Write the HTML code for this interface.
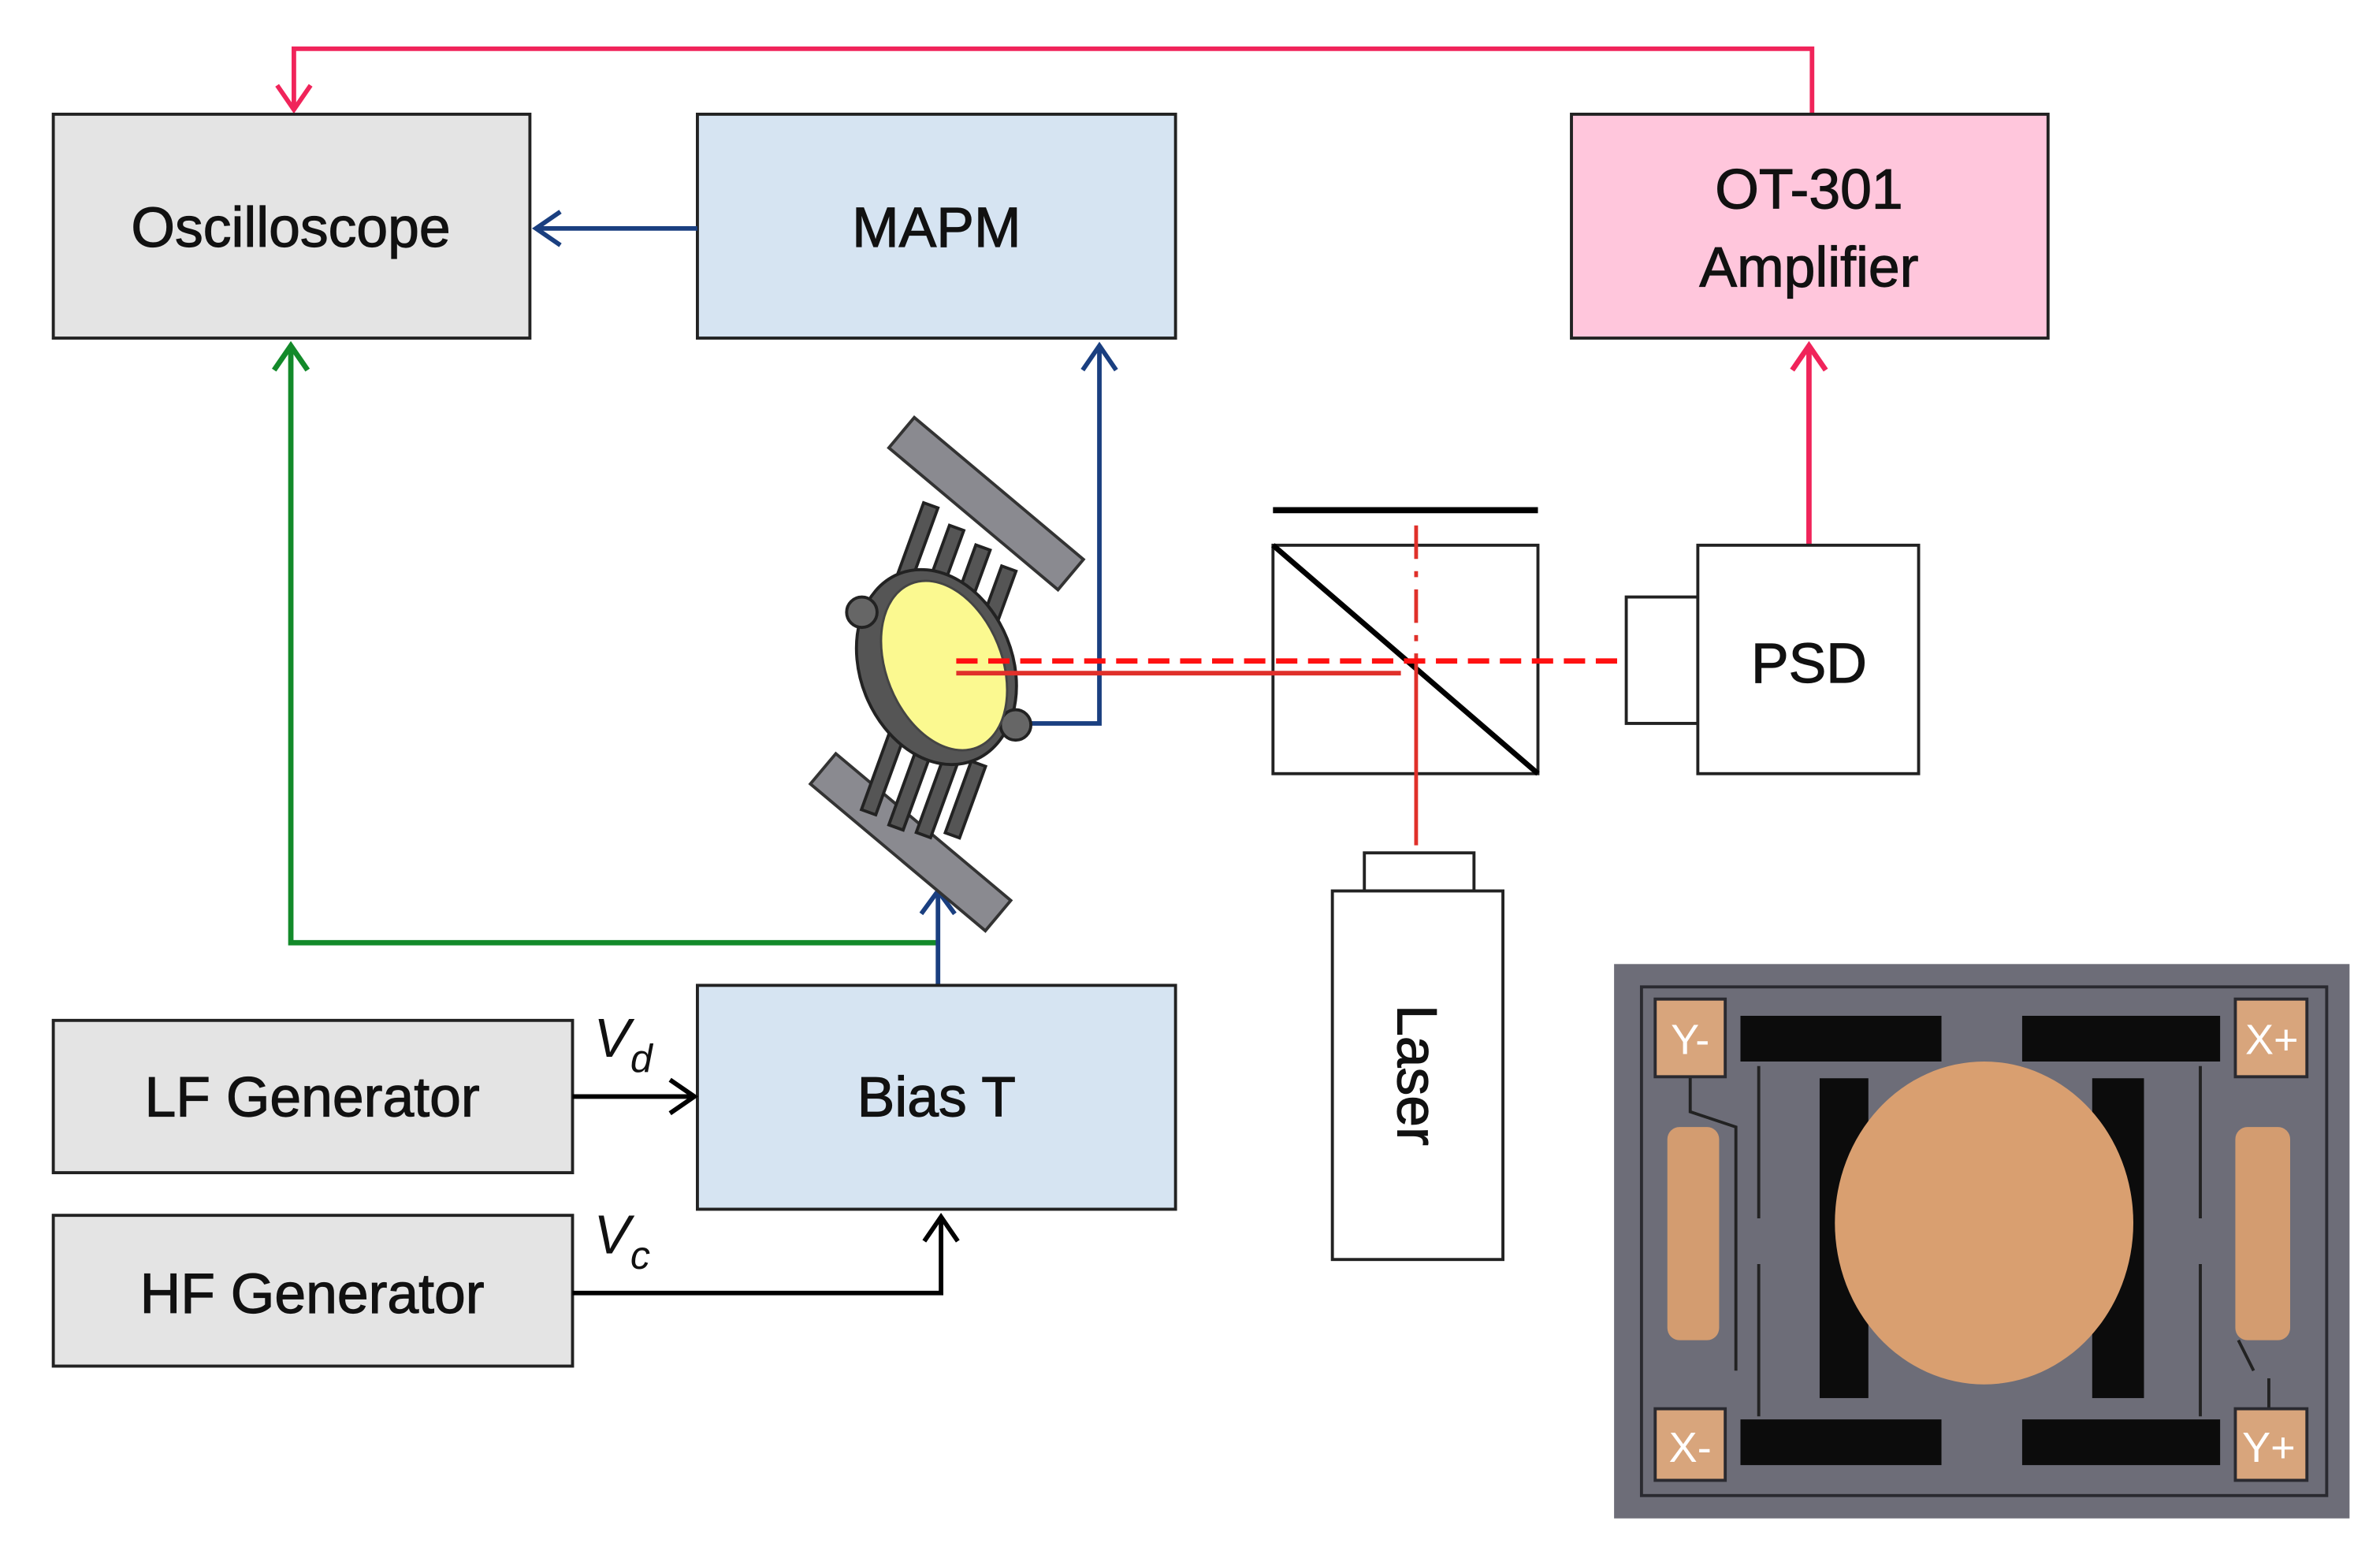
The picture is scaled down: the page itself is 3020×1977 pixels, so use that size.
<!DOCTYPE html>
<html><head><meta charset="utf-8"><style>
html,body{margin:0;padding:0;background:#fff;}
svg{display:block;}
text{font-family:"Liberation Sans",sans-serif;}
</style></head><body>
<svg width="3020" height="1977" viewBox="0 0 1563 1023" preserveAspectRatio="none" xmlns="http://www.w3.org/2000/svg">
<rect width="1563" height="1023" fill="#fff"/>
<polyline points="1190,75 1190,32 193,32 193,70" fill="none" stroke="#f0245a" stroke-width="3"/>
<polyline points="182,56 193,72 204,56" fill="none" stroke="#f0245a" stroke-width="3"/>
<rect x="35" y="75" width="313" height="147" fill="#e4e4e4" stroke="#222" stroke-width="2"/>
<text x="191" y="162" font-size="37" text-anchor="middle" fill="#111" stroke="#111" stroke-width="0.6">Oscilloscope</text>
<rect x="458" y="75" width="314" height="147" fill="#d6e4f2" stroke="#222" stroke-width="2"/>
<text x="615" y="162" font-size="37" text-anchor="middle" fill="#111" stroke="#111" stroke-width="0.6">MAPM</text>
<rect x="1032" y="75" width="313" height="147" fill="#ffc6dc" stroke="#222" stroke-width="2"/>
<text x="1188" y="137" font-size="37" text-anchor="middle" fill="#111" stroke="#111" stroke-width="0.6">OT-301</text>
<text x="1188" y="188" font-size="37" text-anchor="middle" fill="#111" stroke="#111" stroke-width="0.6">Amplifier</text>
<line x1="458" y1="150" x2="352" y2="150" stroke="#1a3f80" stroke-width="3"/>
<polyline points="368,139 352,150 368,161" fill="none" stroke="#1a3f80" stroke-width="3"/>
<polyline points="616,619 191,619 191,228" fill="none" stroke="#138a2a" stroke-width="3.5"/>
<polyline points="180,243 191,227 202,243" fill="none" stroke="#138a2a" stroke-width="3.5"/>
<polyline points="672,475 722,475 722,228" fill="none" stroke="#1a3f80" stroke-width="3"/>
<polyline points="711,243 722,227 733,243" fill="none" stroke="#1a3f80" stroke-width="3"/>
<line x1="1188" y1="358" x2="1188" y2="228" stroke="#f0245a" stroke-width="3.5"/>
<polyline points="1177,243 1188,227 1199,243" fill="none" stroke="#f0245a" stroke-width="3.5"/>
<line x1="616" y1="647" x2="616" y2="586" stroke="#1a3f80" stroke-width="3"/>
<polyline points="605,600 616,585 627,600" fill="none" stroke="#1a3f80" stroke-width="3"/>
<g>
<rect x="575" y="318" width="145" height="26" fill="#8a8a90" stroke="#333" stroke-width="2" transform="rotate(40 648 331)"/>
<rect x="523" y="540" width="150" height="26" fill="#8a8a90" stroke="#333" stroke-width="2" transform="rotate(40 598 553)"/>
<g stroke="#222" stroke-width="2" fill="#555">
<rect x="596" y="330" width="10" height="60" transform="rotate(20 601 360)"/>
<rect x="614" y="345" width="10" height="55" transform="rotate(20 619 372)"/>
<rect x="632" y="358" width="10" height="50" transform="rotate(20 637 383)"/>
<rect x="650" y="372" width="10" height="45" transform="rotate(20 655 394)"/>
<rect x="575" y="480" width="10" height="55" transform="rotate(20 580 507)"/>
<rect x="593" y="490" width="10" height="55" transform="rotate(20 598 517)"/>
<rect x="611" y="495" width="10" height="55" transform="rotate(20 616 522)"/>
<rect x="629" y="500" width="10" height="50" transform="rotate(20 634 525)"/>
</g>
<ellipse cx="615" cy="438" rx="50" ry="66" fill="#555" stroke="#222" stroke-width="2" transform="rotate(-22 615 438)"/>
<circle cx="566" cy="402" r="10" fill="#666" stroke="#222" stroke-width="2"/>
<circle cx="667" cy="476" r="10" fill="#666" stroke="#222" stroke-width="2"/>
<ellipse cx="620" cy="437" rx="38" ry="58" fill="#fbf990" stroke="#444" stroke-width="1.5" transform="rotate(-22 620 437)"/>
</g>
<line x1="836" y1="335" x2="1010" y2="335" stroke="#000" stroke-width="4"/>
<rect x="836" y="358" width="174" height="150" fill="none" stroke="#222" stroke-width="2"/>
<line x1="836" y1="358" x2="1010" y2="508" stroke="#000" stroke-width="3.5"/>
<line x1="930" y1="345" x2="930" y2="435" stroke="#e0302a" stroke-width="2.5" stroke-dasharray="22,8,4,8"/>
<line x1="930" y1="435" x2="930" y2="555" stroke="#e0302a" stroke-width="2.5"/>
<line x1="628" y1="442" x2="920" y2="442" stroke="#e0302a" stroke-width="3"/>
<line x1="628" y1="434" x2="1115" y2="434" stroke="#ff1010" stroke-width="3.5" stroke-dasharray="14,7"/>
<rect x="1068" y="392" width="47" height="83" fill="#fff" stroke="#222" stroke-width="2"/>
<rect x="1115" y="358" width="145" height="150" fill="#fff" stroke="#222" stroke-width="2"/>
<text x="1188" y="448" font-size="37" text-anchor="middle" fill="#111" stroke="#111" stroke-width="0.6">PSD</text>
<rect x="896" y="560" width="72" height="25" fill="#fff" stroke="#222" stroke-width="2"/>
<rect x="875" y="585" width="112" height="242" fill="#fff" stroke="#222" stroke-width="2"/>
<text x="0" y="0" font-size="37" text-anchor="middle" fill="#111" stroke="#111" stroke-width="0.6" transform="translate(918 706) rotate(90)">Laser</text>
<rect x="35" y="670" width="341" height="100" fill="#e4e4e4" stroke="#222" stroke-width="2"/>
<text x="205" y="733" font-size="37" text-anchor="middle" fill="#111" stroke="#111" stroke-width="0.6">LF Generator</text>
<rect x="35" y="798" width="341" height="99" fill="#e4e4e4" stroke="#222" stroke-width="2"/>
<text x="205" y="862" font-size="37" text-anchor="middle" fill="#111" stroke="#111" stroke-width="0.6">HF Generator</text>
<rect x="458" y="647" width="314" height="147" fill="#d6e4f2" stroke="#222" stroke-width="2"/>
<text x="615" y="733" font-size="37" text-anchor="middle" fill="#111" stroke="#111" stroke-width="0.6">Bias T</text>
<line x1="376" y1="720" x2="454" y2="720" stroke="#000" stroke-width="3"/>
<polyline points="440,709 456,720 440,731" fill="none" stroke="#000" stroke-width="3"/>
<polyline points="376,849 618,849 618,800" fill="none" stroke="#000" stroke-width="3"/>
<polyline points="607,815 618,799 629,815" fill="none" stroke="#000" stroke-width="3"/>
<text x="390" y="694" font-size="36" font-style="italic" fill="#111">V<tspan font-size="26" dy="10">d</tspan></text>
<text x="390" y="823" font-size="36" font-style="italic" fill="#111">V<tspan font-size="26" dy="10">c</tspan></text>
<g>
<rect x="1060" y="633" width="483" height="364" fill="#6d6d78"/>
<rect x="1078" y="648" width="450" height="334" fill="none" stroke="#2a2a30" stroke-width="2"/>
<rect x="1143" y="667" width="132" height="30" fill="#0c0c0c"/>
<rect x="1328" y="667" width="130" height="30" fill="#0c0c0c"/>
<rect x="1143" y="932" width="132" height="30" fill="#0c0c0c"/>
<rect x="1328" y="932" width="130" height="30" fill="#0c0c0c"/>
<rect x="1195" y="708" width="32" height="210" fill="#0c0c0c"/>
<rect x="1374" y="708" width="34" height="210" fill="#0c0c0c"/>
<g fill="none" stroke="#222" stroke-width="2">
<path d="M1155,700 L1155,800 M1445,700 L1445,800 M1155,830 L1155,930 M1445,830 L1445,930"/>
<path d="M1110,707 L1110,730 L1140,740 L1140,900"/>
<path d="M1490,905 L1490,925 M1470,880 L1480,900"/>
</g>
<ellipse cx="1303" cy="803" rx="98" ry="106" fill="#d99f70"/>
<rect x="1095" y="740" width="34" height="140" rx="8" fill="#d99f70" opacity="0.95"/>
<rect x="1468" y="740" width="36" height="140" rx="8" fill="#d99f70" opacity="0.95"/>
<rect x="1087" y="656" width="46" height="51" fill="#d8a57c" stroke="#2a2a30" stroke-width="2"/>
<rect x="1468" y="656" width="47" height="51" fill="#d8a57c" stroke="#2a2a30" stroke-width="2"/>
<rect x="1087" y="925" width="46" height="47" fill="#d8a57c" stroke="#2a2a30" stroke-width="2"/>
<rect x="1468" y="925" width="47" height="47" fill="#d8a57c" stroke="#2a2a30" stroke-width="2"/>
<text x="1110" y="692" font-size="28" text-anchor="middle" fill="#fff">Y-</text>
<text x="1492" y="692" font-size="28" text-anchor="middle" fill="#fff">X+</text>
<text x="1110" y="960" font-size="28" text-anchor="middle" fill="#fff">X-</text>
<text x="1490" y="960" font-size="28" text-anchor="middle" fill="#fff">Y+</text>
</g>
</svg>
</body></html>
